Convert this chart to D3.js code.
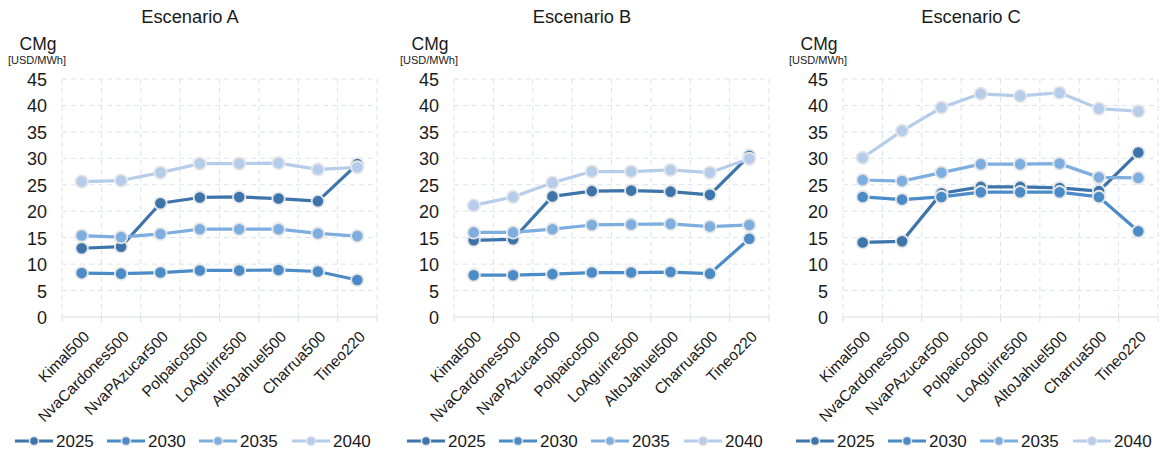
<!DOCTYPE html>
<html>
<head>
<meta charset="utf-8">
<script src="https://cdn.jsdelivr.net/npm/d3@7"></script>
<style>
  body { margin: 0; background: #fff; }
  svg { display: block; font-family: "Liberation Sans", Arial, sans-serif; }
</style>
</head>
<body>
<svg id="chart" width="1159" height="454"></svg>
<script>
// Nodos del sistema (eje X)
const nodos = ["Kimal500", "NvaCardones500", "NvaPAzucar500", "Polpaico500",
               "LoAguirre500", "AltoJahuel500", "Charrua500", "Tineo220"];
const anios = ["2025", "2030", "2035", "2040"];
const yTicks = [0, 5, 10, 15, 20, 25, 30, 35, 40, 45];

// Costo marginal [USD/MWh] por escenario y año
const escA_2025 = [13.0, 13.3, 21.5, 22.6, 22.7, 22.4, 21.9, 28.9];
const escA_2030 = [8.3, 8.2, 8.4, 8.8, 8.8, 8.9, 8.6, 7.0];
const escA_2035 = [15.4, 15.1, 15.7, 16.6, 16.6, 16.6, 15.8, 15.3];
const escA_2040 = [25.6, 25.8, 27.3, 29.0, 29.0, 29.1, 27.9, 28.3];

const escB_2025 = [14.5, 14.7, 22.8, 23.8, 23.9, 23.7, 23.1, 30.5];
const escB_2030 = [7.9, 7.9, 8.1, 8.4, 8.4, 8.5, 8.2, 14.8];
const escB_2035 = [16.0, 16.0, 16.6, 17.4, 17.5, 17.6, 17.1, 17.4];
const escB_2040 = [21.1, 22.7, 25.4, 27.5, 27.5, 27.8, 27.3, 29.9];

const escC_2025 = [14.1, 14.3, 23.4, 24.6, 24.6, 24.4, 23.8, 31.1];
const escC_2030 = [22.7, 22.2, 22.7, 23.6, 23.6, 23.6, 22.7, 16.2];
const escC_2035 = [25.9, 25.7, 27.3, 28.9, 28.9, 29.0, 26.4, 26.3];
const escC_2040 = [30.1, 35.2, 39.6, 42.2, 41.8, 42.4, 39.4, 38.9];

const escenarios = [
  { titulo: "Escenario A", series: [escA_2025, escA_2030, escA_2035, escA_2040] },
  { titulo: "Escenario B", series: [escB_2025, escB_2030, escB_2035, escB_2040] },
  { titulo: "Escenario C", series: [escC_2025, escC_2030, escC_2035, escC_2040] }
];

const colores = ["#3d74aa", "#4b8bc8", "#7eaee0", "#b5cdea"];

const svg = d3.select("#chart");

// Geometría de cada panel
const panelX = [0, 392, 781];
const plotLeft = 62, plotW = 315;
const plotTop = 79, plotBottom = 317;

const y = d3.scaleLinear().domain([0, 45]).range([plotBottom, plotTop]);

escenarios.forEach((esc, i) => {
  const g = svg.append("g").attr("transform", `translate(${panelX[i]},0)`);
  const x = d3.scaleBand().domain(nodos).range([plotLeft, plotLeft + plotW]);

  // Título
  g.append("text").attr("x", 190).attr("y", 23)
    .attr("text-anchor", "middle").attr("font-size", 18.3).attr("fill", "#1a1a1a")
    .text(esc.titulo);

  // Unidad del eje Y
  g.append("text").attr("x", 38).attr("y", 50)
    .attr("text-anchor", "middle").attr("font-size", 17.5).attr("fill", "#1a1a1a")
    .text("CMg");
  g.append("text").attr("x", 37).attr("y", 64)
    .attr("text-anchor", "middle").attr("font-size", 11).attr("fill", "#1a1a1a")
    .text("[USD/MWh]");

  // Grilla horizontal
  g.append("g").selectAll("line").data(yTicks.filter(t => t > 0)).join("line")
    .attr("x1", plotLeft).attr("x2", plotLeft + plotW)
    .attr("y1", d => y(d)).attr("y2", d => y(d))
    .attr("stroke", "#dce3ec").attr("stroke-width", 1).attr("stroke-dasharray", "5,4");

  // Grilla vertical en los bordes de cada categoría
  const bordes = nodos.map(n => x(n)).concat([plotLeft + plotW]);
  g.append("g").selectAll("line").data(bordes).join("line")
    .attr("x1", d => d).attr("x2", d => d)
    .attr("y1", plotTop).attr("y2", plotBottom)
    .attr("stroke", "#dce3ec").attr("stroke-width", 1).attr("stroke-dasharray", "5,4");

  // Eje X
  g.append("line").attr("x1", plotLeft).attr("x2", plotLeft + plotW)
    .attr("y1", plotBottom).attr("y2", plotBottom)
    .attr("stroke", "#d9dee6").attr("stroke-width", 1.2);
  g.append("g").selectAll("line").data(bordes).join("line")
    .attr("x1", d => d).attr("x2", d => d)
    .attr("y1", plotBottom).attr("y2", plotBottom + 5)
    .attr("stroke", "#d9dee6").attr("stroke-width", 1);

  // Etiquetas eje Y
  const yAxis = d3.axisLeft(y).tickValues(yTicks).tickSize(0).tickPadding(0);
  const ya = g.append("g").attr("transform", `translate(47,0)`).call(yAxis);
  ya.select(".domain").remove();
  ya.selectAll("text").attr("font-size", 18).attr("fill", "#1a1a1a")
    .attr("font-family", "Liberation Sans, Arial, sans-serif").attr("dy", "0.36em");

  // Etiquetas eje X rotadas
  g.append("g").selectAll("text").data(nodos).join("text")
    .attr("transform", d => `translate(${x(d) + x.bandwidth() / 2 + 1},${plotBottom + 13}) rotate(-45)`)
    .attr("text-anchor", "end").attr("dy", "0.7em")
    .attr("font-size", 15.5).attr("fill", "#1a1a1a")
    .text(d => d);

  // Series
  const linea = d3.line()
    .x((d, j) => x(nodos[j]) + x.bandwidth() / 2)
    .y(d => y(d));

  esc.series.forEach((serie, k) => {
    g.append("path").datum(serie)
      .attr("d", linea).attr("fill", "none")
      .attr("stroke", colores[k]).attr("stroke-width", 3.2)
      .attr("stroke-linejoin", "round");
    g.append("g").selectAll("circle").data(serie).join("circle")
      .attr("cx", (d, j) => x(nodos[j]) + x.bandwidth() / 2)
      .attr("cy", d => y(d))
      .attr("r", 6.2)
      .attr("fill", colores[k])
      .attr("stroke", "#e6e6e6").attr("stroke-width", 1.8);
  });

  // Leyenda
  const leyX = [15, 107, 199, 292];
  anios.forEach((a, k) => {
    const lg = g.append("g").attr("transform", `translate(${leyX[k]},441)`);
    lg.append("line").attr("x1", 0).attr("x2", 38).attr("y1", 0).attr("y2", 0)
      .attr("stroke", colores[k]).attr("stroke-width", 3.2);
    lg.append("circle").attr("cx", 19).attr("cy", 0).attr("r", 4.5)
      .attr("fill", colores[k]).attr("stroke", "#e6e6e6").attr("stroke-width", 1.5);
    lg.append("text").attr("x", 41).attr("y", 0).attr("dy", "0.36em")
      .attr("font-size", 17).attr("fill", "#1a1a1a").text(a);
  });
});
</script>
</body>
</html>
